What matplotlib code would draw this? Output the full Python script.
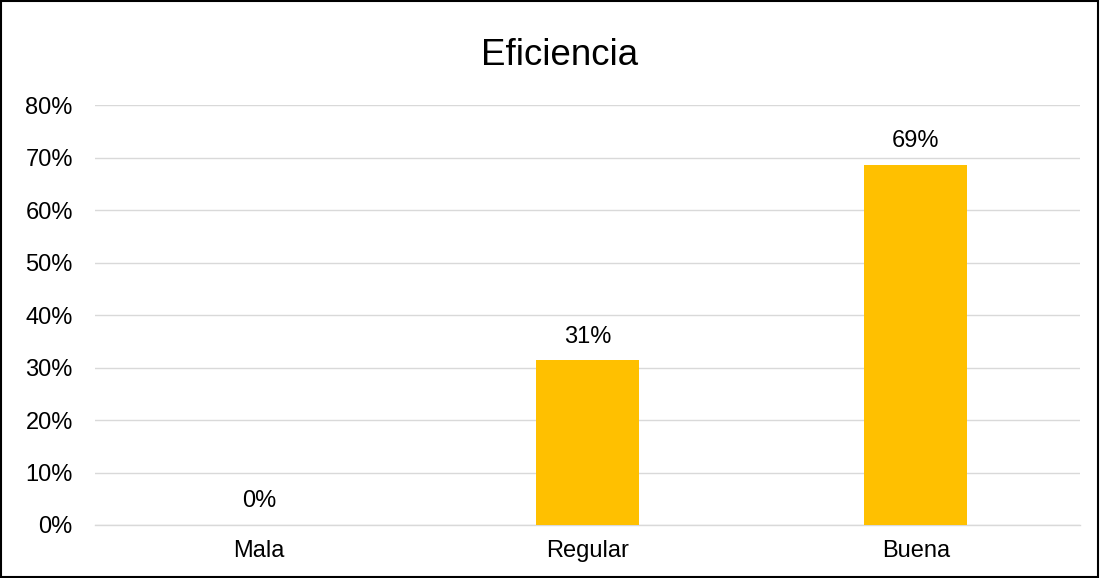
import matplotlib
matplotlib.use("Agg")
import matplotlib.pyplot as plt
from matplotlib.patches import Rectangle

plt.rcParams['font.family'] = ['Liberation Sans', 'DejaVu Sans']

categories = ["Mala", "Regular", "Buena"]
values = [0.0, 0.314, 0.686]
labels = ["0%", "31%", "69%"]
yticks = [0, 0.1, 0.2, 0.3, 0.4, 0.5, 0.6, 0.7, 0.8]
ytick_labels = ["0%", "10%", "20%", "30%", "40%", "50%", "60%", "70%", "80%"]

fig = plt.figure(figsize=(11, 5.78), dpi=100)
ax = fig.add_axes([0.0864, 0.0917, 0.8954, 0.7266])

x = list(range(len(categories)))
ax.bar(x, values, width=0.314, color="#FFC000", zorder=3)
for xi, v, lab in zip(x, values, labels):
    ax.annotate(lab, (xi, v), xytext=(0, 9), textcoords="offset points",
                ha="center", va="bottom", fontsize=17, color="#000000")

ax.set_xlim(-0.5, 2.5)
ax.set_ylim(0, 0.8)
ax.set_yticks(yticks)
ax.set_yticklabels(ytick_labels, fontsize=17)
ax.set_xticks(x)
ax.set_xticklabels(categories, fontsize=17)
ax.tick_params(axis='both', length=0)
ax.tick_params(axis='x', pad=11)
ax.tick_params(axis='y', pad=16)
ax.yaxis.grid(True, color="#D9D9D9", linewidth=1, zorder=0)
for s in ["top", "right", "left"]:
    ax.spines[s].set_visible(False)
ax.spines["bottom"].set_color("#D9D9D9")
ax.spines["bottom"].set_linewidth(1)

fig.text(0.5086, 1 - 65 / 578, "Eficiencia", ha="center", va="baseline", fontsize=26.4)

fig.patches.append(Rectangle((0.001, 0.002), 0.997, 0.996, transform=fig.transFigure,
                             fill=False, edgecolor="black", linewidth=1.5))

fig.savefig("out.png", dpi=100)
